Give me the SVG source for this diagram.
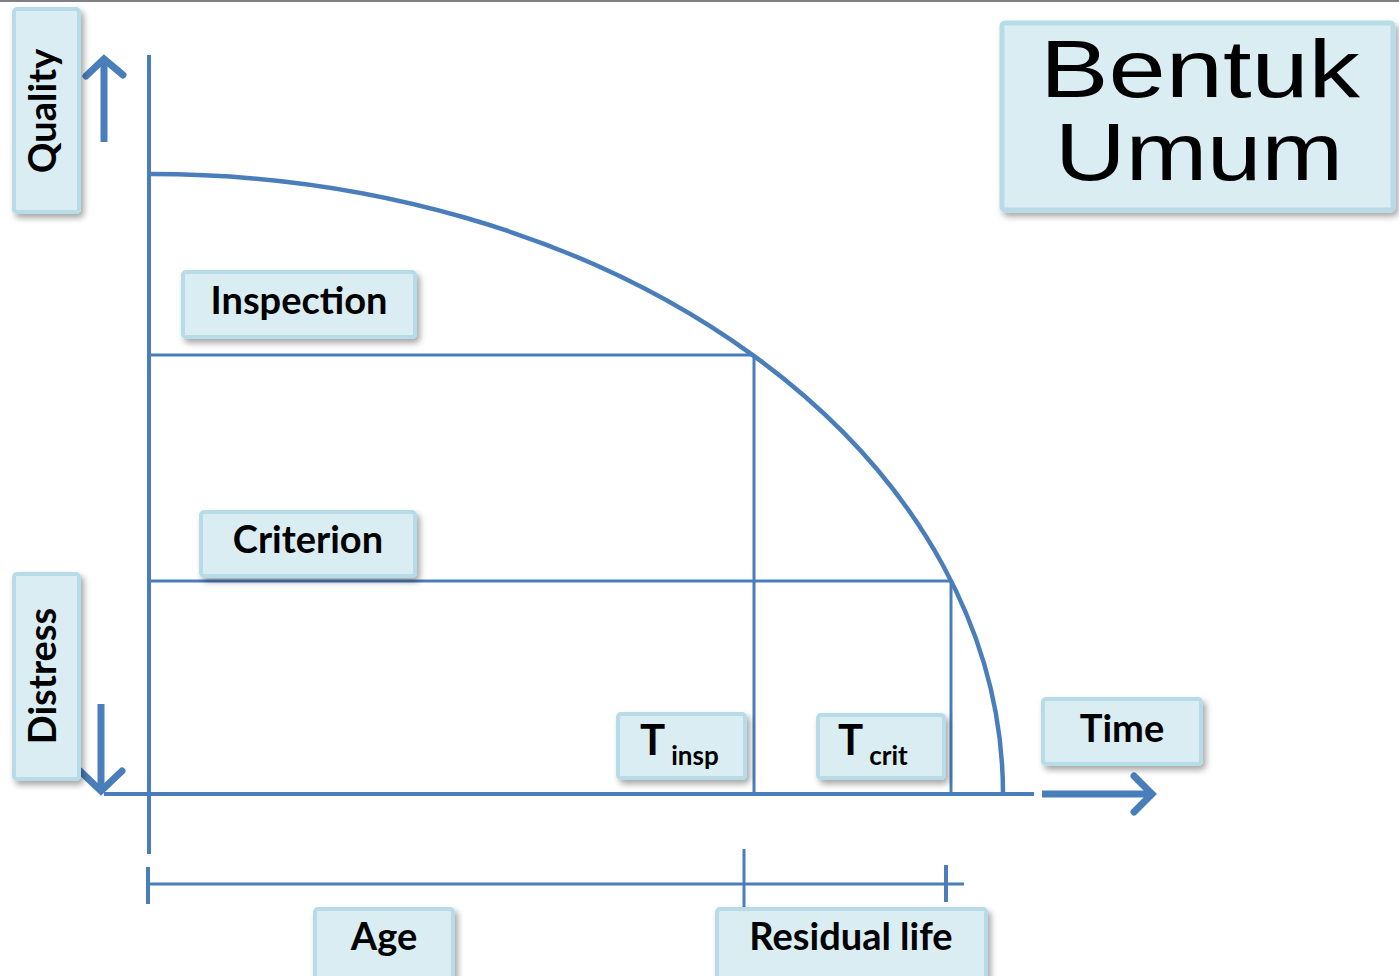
<svg xmlns="http://www.w3.org/2000/svg" width="1399" height="976" viewBox="0 0 1399 976">
<defs>
<filter id="sh" x="-20%" y="-20%" width="140%" height="150%">
<feDropShadow dx="3" dy="4" stdDeviation="3" flood-color="#000" flood-opacity="0.35"/>
</filter>
<style>
.box{fill:#daedf3;stroke:#b7dce7;stroke-width:4;filter:url(#sh)}
.lbl{font-family:Lato,"Open Sans","Liberation Sans",sans-serif;font-weight:bold;font-size:38px;fill:#000;text-anchor:middle}
.big{font-family:"Liberation Sans","DejaVu Sans",sans-serif;font-size:82px;fill:#000;text-anchor:middle}
.ax{stroke:#4a7ebb;stroke-width:4;fill:none}
.crv{stroke:#4a7ebb;stroke-width:4.5;fill:none}
.thin{stroke:#4a7ebb;stroke-width:3;fill:none}
.arr{stroke:#4a7ebb;stroke-width:7;fill:none;stroke-linecap:round;stroke-linejoin:miter}
</style>
</defs>
<rect x="0" y="0" width="1399" height="976" fill="#fff"/>
<rect x="0" y="0" width="1399" height="2" fill="#808080"/>

<g id="connectors">
<line class="ax" x1="149" y1="55" x2="149" y2="854"/>
<line class="ax" x1="104" y1="794" x2="1034" y2="794"/>
<path class="crv" d="M151,174 A852,620 0 0 1 1003,794"/>
<line class="thin" x1="151" y1="355" x2="754" y2="355"/>
<line class="thin" x1="754" y1="355" x2="754" y2="794"/>
<line class="thin" x1="151" y1="581" x2="951" y2="581"/>
<line class="thin" x1="951" y1="581" x2="951" y2="794"/>
<path class="arr" d="M104,142 V62" style="stroke-linecap:butt"/>
<path class="arr" d="M86,76 L104,59 L123,75"/>
<path class="arr" d="M101,704 V788" style="stroke-linecap:butt"/>
<path class="arr" d="M80,771 L101,791 L122,771"/>
<path class="arr" d="M1042,794 H1148" style="stroke-linecap:butt"/>
<path class="arr" d="M1134,776 L1152,794 L1134,812"/>
<line class="ax" x1="148" y1="867" x2="148" y2="904"/>
<line class="thin" x1="148" y1="884" x2="964" y2="884"/>
<line class="thin" x1="744" y1="849" x2="744" y2="909"/>
<line class="ax" x1="946" y1="865" x2="946" y2="902"/>
</g>

<g id="quality">
<rect class="box" x="14" y="9" width="65" height="203" rx="3"/>
<text class="lbl" transform="translate(56,111) rotate(-90)">Quality</text>
</g>
<g id="distress">
<rect class="box" x="14" y="574" width="65" height="205" rx="3"/>
<text class="lbl" transform="translate(56,676) rotate(-90)">Distress</text>
</g>
<g id="bentuk">
<rect class="box" x="1002" y="23" width="391" height="187" rx="3" style="stroke-width:5"/>
<text class="big" x="1200" y="97" textLength="320" lengthAdjust="spacingAndGlyphs">Bentuk</text>
<text class="big" x="1199" y="180" textLength="288" lengthAdjust="spacingAndGlyphs">Umum</text>
</g>
<g id="inspection">
<rect class="box" x="183" y="272" width="232" height="65" rx="3"/>
<text class="lbl" x="299" y="314">Inspection</text>
</g>
<g id="criterion">
<rect class="box" x="201" y="512" width="214" height="64" rx="3"/>
<text class="lbl" x="308" y="553">Criterion</text>
</g>
<g id="tinsp">
<rect class="box" x="618" y="714" width="127" height="64" rx="3"/>
<text class="lbl" x="640" y="755" style="text-anchor:start;font-size:42px">T<tspan dx="6" dy="10" style="font-size:26px">insp</tspan></text>
</g>
<g id="tcrit">
<rect class="box" x="818" y="715" width="126" height="63" rx="3"/>
<text class="lbl" x="838" y="755" style="text-anchor:start;font-size:42px">T<tspan dx="6" dy="10" style="font-size:26px">crit</tspan></text>
</g>
<g id="time">
<rect class="box" x="1043" y="699" width="158" height="65" rx="3"/>
<text class="lbl" x="1122" y="742">Time</text>
</g>
<g id="age">
<rect class="box" x="315" y="909" width="138" height="70" rx="3"/>
<text class="lbl" x="384" y="950">Age</text>
</g>
<g id="residual">
<rect class="box" x="717" y="909" width="269" height="70" rx="3"/>
<text class="lbl" x="851" y="950">Residual life</text>
</g>
</svg>
